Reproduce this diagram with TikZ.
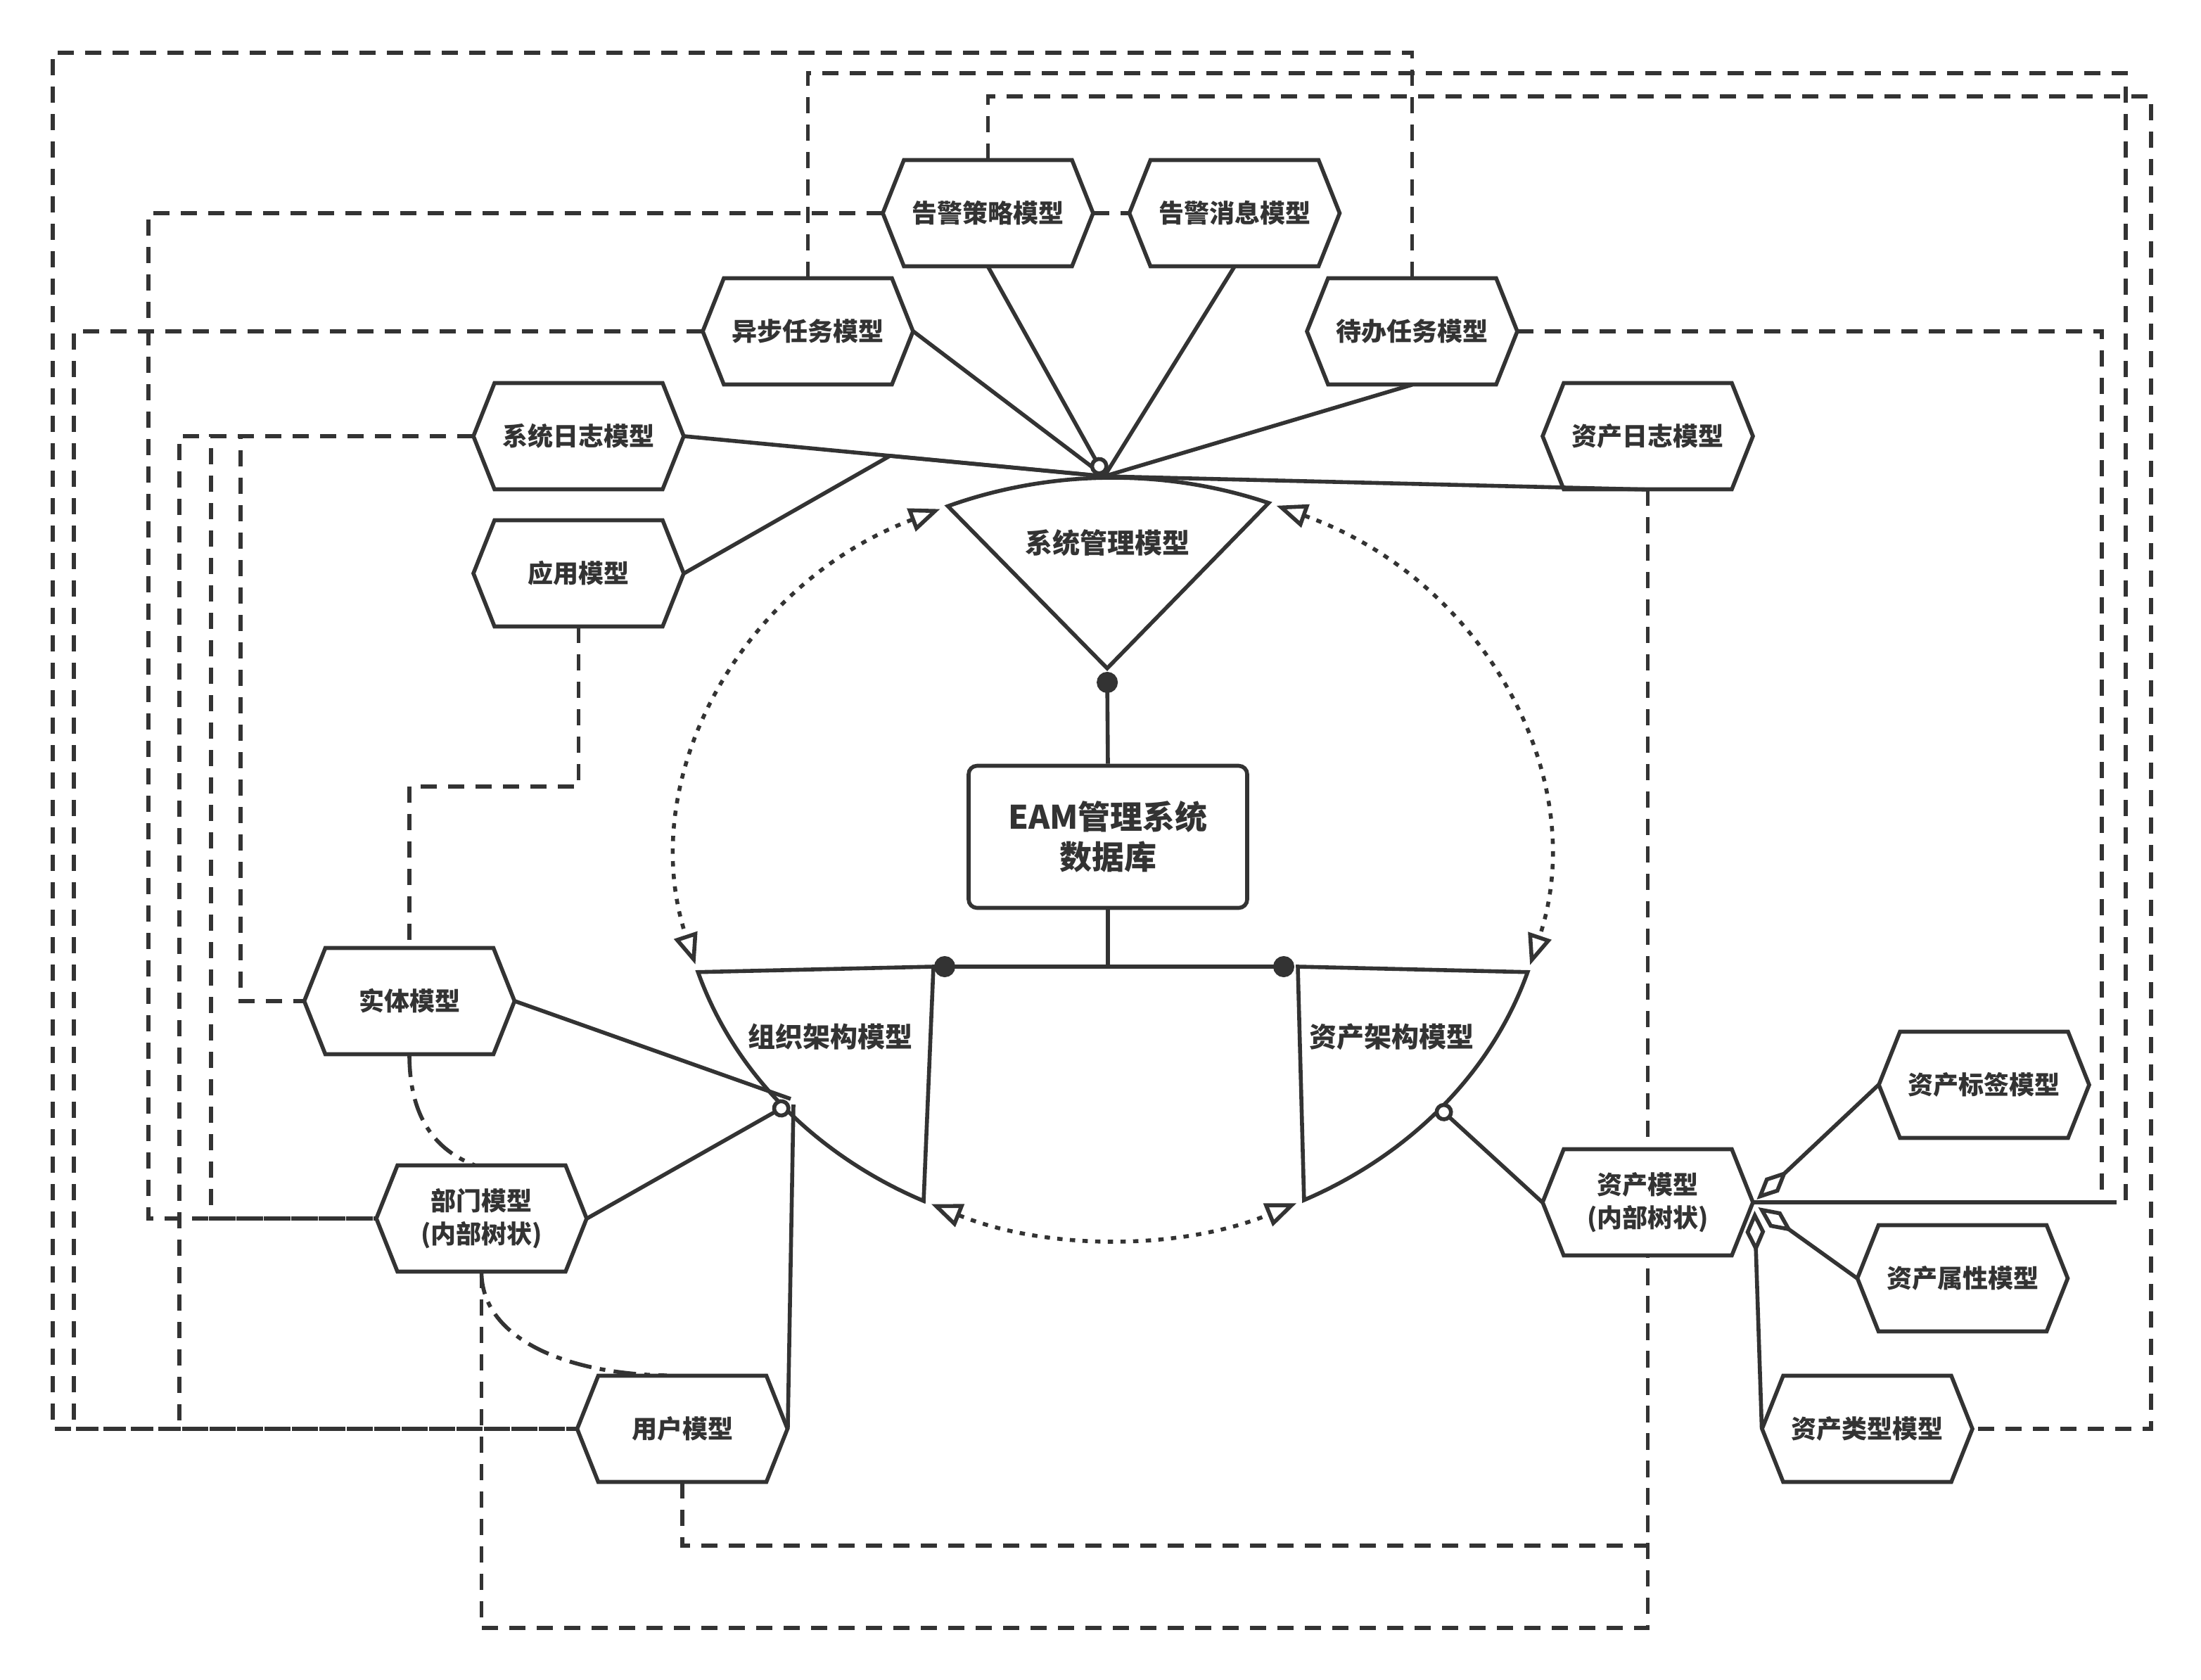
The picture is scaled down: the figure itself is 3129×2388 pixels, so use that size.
\documentclass[tikz,border=0pt]{standalone}
\usepackage{fontspec}
\setmainfont{Noto Sans CJK SC}[BoldFont={Noto Sans CJK SC Black}]
\usetikzlibrary{arrows.meta,calc}
\definecolor{lc}{HTML}{333333}
\tikzset{
  ln/.style={draw=lc, line width=2.8pt},
  dsh/.style={ln, dash pattern=on 11.5pt off 8pt},
  dtd/.style={ln, dash pattern=on 3.8pt off 5.2pt},
  dshdot/.style={ln, dash pattern=on 16pt off 6pt on 4pt off 6pt},
  hexshape/.style={draw=lc, fill=white, line width=2.8pt, line join=miter},
  hextext/.style={rectangle, minimum width=149.5pt, minimum height=75.5pt, inner sep=0pt, align=center, text=lc, font=\fontsize{18}{23.5}\selectfont\bfseries},
  sector/.style={draw=lc, fill=white, line width=2.8pt, line join=miter},
  lab/.style={text=lc, inner sep=0pt, font=\fontsize{19.5}{24}\selectfont\bfseries},
  eambox/.style={draw=lc, fill=white, line width=2.8pt, rounded corners=6pt, minimum width=198pt, minimum height=101pt, align=center, text=lc, inner sep=0pt, font=\fontsize{23}{28.5}\selectfont\bfseries},
  bigdot/.tip={Circle[length=15pt,width=15pt]},
  hollowc/.tip={Circle[open,fill=white,length=13pt,width=13pt]},
  hollowd/.tip={Diamond[open,fill=white,length=30pt,width=14pt]},
  hollowt/.tip={Triangle[open,fill=white,length=22pt,width=17pt]},
}
\newcommand\hexnode[4]{%
  \path[hexshape] ({#2-149.5},{#3}) -- ({#2-119.5},{#3-75.5}) -- ({#2+119.5},{#3-75.5}) -- ({#2+149.5},{#3}) -- ({#2+119.5},{#3+75.5}) -- ({#2-119.5},{#3+75.5}) -- cycle;
  \node[hextext] (#1) at (#2,#3) {#4};}
\begin{document}
\begin{tikzpicture}[x=0.5pt,y=-0.5pt]
\useasboundingbox (0,0) rectangle (3129,2388);
\coordinate (C) at (1582,1220);

% hexagon nodes
\hexnode{gjcl}{1404.5}{303}{告警策略模型}
\hexnode{gjxx}{1755}{303}{告警消息模型}
\hexnode{yibu}{1148.5}{471}{异步任务模型}
\hexnode{daiban}{2007.5}{471}{待办任务模型}
\hexnode{xtrz}{822.5}{620}{系统日志模型}
\hexnode{zcrz}{2342.5}{620}{资产日志模型}
\hexnode{yy}{822.5}{815}{应用模型}
\hexnode{shiti}{582}{1423}{实体模型}
\hexnode{bumen}{684.5}{1732}{部门模型\\(内部树状)}
\hexnode{yonghu}{970}{2031}{用户模型}
\hexnode{zcmx}{2342.5}{1709}{资产模型\\(内部树状)}
\hexnode{zcbq}{2820.5}{1542}{资产标签模型}
\hexnode{zcsx}{2790}{1817}{资产属性模型}
\hexnode{zclx}{2654.5}{2031}{资产类型模型}

% sector shapes
\path[sector] (1574,950) -- ($(C)+(247.7:618 and 541)$) arc[start angle=247.7,end angle=291,x radius=618,y radius=541] -- cycle;
\node[lab] (sysm) at (1574,772) {系统管理模型};
\path[sector] ($(C)+(115.8:618 and 541)$) arc[start angle=115.8,end angle=162.6,x radius=618,y radius=541] -- (1327,1374) -- cycle;
\node[lab] (orgm) at (1180,1474) {组织架构模型};
\path[sector] (1845,1374) -- ($(C)+(17.4:618 and 541)$) arc[start angle=17.4,end angle=63.9,x radius=618,y radius=541] -- cycle;
\node[lab] (astm) at (1978,1474) {资产架构模型};

\node[eambox] (eam) at (1575,1189.5) {EAM管理系统\\数据库};

% named connector ends
\coordinate (sysc) at (1570,677);
\coordinate (gjend) at (1569,674);
\coordinate (sysapex) at (1574,955);
\coordinate (orgcorner) at (1328,1374);
\coordinate (astcorner) at (1840,1374);
\coordinate (orgA) at (1124,1562);
\coordinate (orgB) at (1122,1569);
\coordinate (orgC) at (1128,1570);
\coordinate (astA) at (2043,1572);

% solid connectors to system model
\draw[ln] (yibu.east) -- (sysc);
\draw[ln] (gjxx.south) -- (sysc);
\draw[ln] (daiban.south) -- (sysc);
\draw[ln] (xtrz.east) -- (sysc);
\draw[ln] (yy.east) -- ($(xtrz.east)!0.49!(sysc)$) -- (sysc);
\draw[ln] (zcrz.south) -- (sysc);
\draw[ln,-{hollowc}] (gjcl.south) -- (gjend);

% database
\draw[ln,-{bigdot}] (eam.north) -- (sysapex);
\draw[ln,-{bigdot}] (eam.south) |- (orgcorner);
\draw[ln,-{bigdot}] (eam.south) |- (astcorner);

% organisation / asset
\draw[ln] (shiti.east) -- (orgA);
\draw[ln,-{hollowc}] (bumen.east) -- (orgB);
\draw[ln] (yonghu.east) -- (orgC);
\draw[ln,-{hollowc}] (zcmx.west) -- (astA);
\draw[ln,{hollowd}-] ([shift={(5,-4)}]zcmx.east) -- (zcbq.west);
\draw[ln,{hollowd}-] ([shift={(7,7)}]zcmx.east) -- (zcsx.west);
\draw[ln,{hollowd}-] ([shift={(2,12)}]zcmx.east) -- (zclx.west);

% dotted arcs
\draw[dtd,{hollowt}-{hollowt}] ($(C)+(246.6:618 and 541)$) arc[start angle=246.6,end angle=163.8,x radius=618,y radius=541];
\draw[dtd,{hollowt}-{hollowt}] ($(C)+(292.1:618 and 541)$) arc[start angle=292.1,end angle=376.3,x radius=618,y radius=541];
\draw[dtd,{hollowt}-{hollowt}] ($(C)+(114.7:618 and 541)$) arc[start angle=114.7,end angle=65.0,x radius=618,y radius=541];

% dashed connectors
\draw[dsh] (daiban.north) |- (75,75) |- (yonghu.west);
\draw[dsh] (yibu.north) |- (3022,104) |- (zcmx.east);
\draw[dsh] (gjcl.north) |- (3058,137) |- (zclx.east);
\draw[dsh] (gjcl.west) -| (211,1732) -- (bumen.west);
\draw[dsh] (gjcl.east) -- (gjxx.west);
\draw[dsh] (yibu.west) -| (105,2031) -- (yonghu.west);
\draw[dsh] (daiban.east) -| (2988,1709) -- (zcmx.east);
\draw[dsh] (xtrz.west) -| (255,2031) -- (yonghu.west);
\draw[dsh] (xtrz.west) -| (300,1732) -- (bumen.west);
\draw[dsh] (xtrz.west) -| (342,1423) -- (shiti.west);
\draw[dsh] (yy.south) -- (822.5,1118) -| (shiti.north);
\draw[dsh] (zcrz.south) -- (zcmx.north);
\draw[dsh] (bumen.south) -- (684.5,2314) -| (zcmx.south);
\draw[dsh] (yonghu.south) -- (970,2197) -| (zcmx.south);

% dash-dot curves
\draw[dshdot] (shiti.south) .. controls (582,1590) and (620,1635) .. ($(bumen.north)+(-10,0)$);
\draw[dshdot] (bumen.south) .. controls (684.5,1900) and (800,1953) .. ($(yonghu.north)+(-22,0)$);
\end{tikzpicture}
\end{document}
